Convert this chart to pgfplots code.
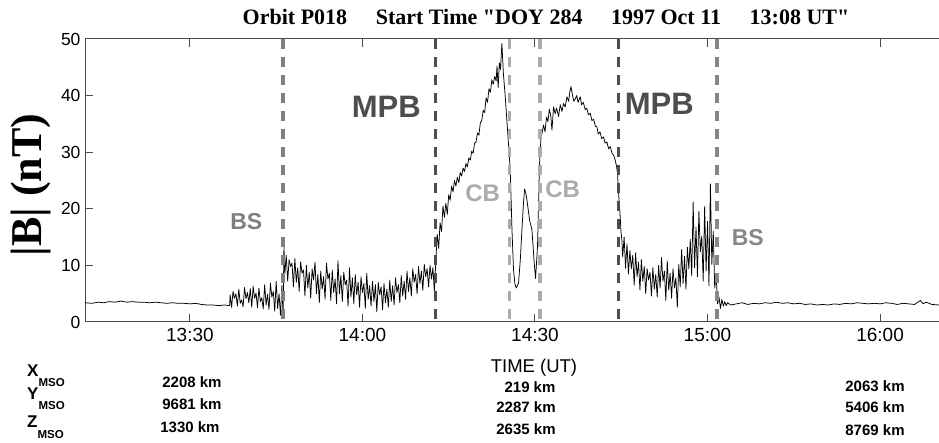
\documentclass[border=0pt]{standalone}
\usepackage{fontspec}
\setmainfont{Liberation Serif}
\setsansfont{Liberation Sans}
\usepackage{pgfplots}
\usepackage{pgfplotstable}
\pgfplotsset{compat=1.18}
\definecolor{bsgray}{HTML}{7F7F7F}
\definecolor{mpbgray}{HTML}{4D4D4D}
\definecolor{cbgray}{HTML}{ABABAB}
\definecolor{axgray}{HTML}{4A4A4A}
\definecolor{bsgrayB}{HTML}{878787}

% time in minutes after 13:00 (axis scale as drawn), |B| in nT
\pgfplotstableread{
m B
11.76 3.4
13 3.3
14 3.5
15 3.4
16 3.6
17 3.5
18 3.7
19 3.5
20 3.6
21 3.5
22 3.5
23 3.4
24 3.5
25 3.4
26 3.3
27 3.4
28 3.3
29 3.3
30 3.2
31 3.3
32 3.1
33 3.0
34 3.0
35 2.9
36 3.0
36.9 2.9
37.00 4.8
37.25 2.6
37.50 5.4
37.75 4.2
38.00 5.0
38.25 2.8
38.50 5.8
38.75 3.3
39.00 3.9
39.25 2.7
39.50 6.1
39.75 4.1
40.00 5.2
40.25 3.4
40.50 5.9
40.75 2.6
41.00 6.3
41.25 4.2
41.50 5.1
41.75 2.5
42.00 6.0
42.25 3.6
42.50 4.3
42.75 2.3
43.00 6.6
43.25 3.0
43.50 4.9
43.75 2.2
44.00 6.9
44.25 4.4
44.50 5.4
44.75 1.9
45.00 7.2
45.25 2.4
45.50 5.0
45.75 1.2
46.00 6.5
46.20 1.0
46.35 13.5
46.50 8.5
46.75 11.8
47.00 7.2
47.25 11.0
47.50 9.8
47.75 10.4
48.00 6.2
48.25 11.2
48.50 7.0
48.75 9.6
49.00 5.4
49.25 10.6
49.50 8.6
49.75 9.2
50.00 4.6
50.25 10.0
50.50 6.0
50.75 8.8
51.00 4.2
51.25 9.4
51.50 7.4
51.75 10.6
52.00 5.0
52.25 8.4
52.50 3.4
52.75 9.0
53.00 5.8
53.25 8.0
53.50 4.0
53.75 10.4
54.00 7.6
54.25 8.6
54.50 3.8
54.75 9.2
55.00 5.2
55.25 7.6
55.50 3.2
55.75 10.8
56.00 5.0
56.25 8.2
56.50 3.6
56.75 8.8
57.00 6.6
57.25 7.4
57.50 2.8
57.75 9.6
58.00 4.4
58.25 7.8
58.50 3.2
58.75 8.4
59.00 4.8
59.25 7.0
59.50 2.6
59.75 8.0
60.00 5.2
60.25 6.8
60.50 2.4
60.75 8.6
61.00 4.0
61.25 6.4
61.50 2.8
61.75 7.2
62.00 3.6
62.25 6.6
62.50 1.8
62.75 7.0
63.00 4.8
63.25 6.2
63.50 2.2
63.75 6.8
64.00 3.4
64.25 5.8
64.50 2.6
64.75 7.4
65.00 3.6
65.25 6.4
65.50 3.0
65.75 7.8
66.00 5.2
66.25 6.6
66.50 3.4
66.75 8.2
67.00 4.6
67.25 7.2
67.50 4.0
67.75 9.0
68.00 5.4
68.25 7.8
68.50 4.6
68.75 9.4
69.00 7.0
69.25 8.4
69.50 5.0
69.75 9.8
70.00 6.8
70.25 9.0
70.50 5.6
70.75 10.2
71.00 8.0
71.25 9.4
71.50 6.2
71.75 10.0
72.00 7.6
72.25 9.6
72.50 5.4
72.75 10.5
73.00 15.5
73.25 13.0
73.50 17.5
73.75 16.0
74.00 20.5
74.25 18.5
74.50 21.0
74.75 19.0
75.00 22.5
75.25 21.5
75.50 24.0
75.75 23.0
76.00 25.0
76.25 24.0
76.50 25.6
76.75 24.6
77.00 26.4
77.25 25.8
77.50 27.2
77.75 26.6
78.00 28.0
78.25 27.4
78.50 29.0
78.75 28.6
79.00 30.2
79.25 29.8
79.50 31.6
79.75 31.8
80.00 33.4
80.25 33.0
80.50 35.2
80.75 35.6
81.00 37.4
81.25 37.0
81.50 39.6
81.75 38.8
82.00 41.2
82.25 40.6
82.50 42.8
82.75 42.0
83.00 43.4
83.25 42.6
83.40 45.2
83.60 41.4
83.80 45.8
84.00 44.6
84.25 49.2
84.50 44.0
84.83 39.8
85.23 33.9
85.70 26.9
86.00 16.3
86.27 9.2
86.50 6.8
86.74 6.0
87.14 6.9
87.45 11.0
87.73 16.3
88.00 21.0
88.19 23.5
88.40 22.8
88.60 21.6
89.06 18.0
89.47 16.3
89.87 10.4
90.10 7.7
90.44 13.3
90.79 28.0
91.04 32.5
91.25 33.5
91.49 34.8
91.75 33.6
92.00 36.2
92.25 35.4
92.50 37.6
92.75 36.4
92.95 33.9
93.23 38.0
93.50 36.8
93.75 37.8
94.10 36.3
94.40 38.4
94.70 37.2
94.96 38.6
95.25 38.0
95.56 39.8
95.85 39.0
96.05 40.6
96.25 41.6
96.50 40.2
96.75 39.0
97.00 39.4
97.25 40.0
97.50 38.8
97.87 39.8
98.10 38.4
98.40 38.8
98.74 37.5
99.00 37.8
99.30 36.6
99.61 36.9
99.90 35.6
100.20 35.8
100.50 34.6
100.77 34.5
101.00 33.2
101.30 33.6
101.60 32.4
101.92 32.7
102.20 31.6
102.50 31.8
102.80 30.6
103.08 31.0
103.40 29.8
103.70 29.4
103.95 28.6
104.20 27.4
104.35 26.3
104.53 22.8
104.70 20.5
104.82 18.6
104.95 16.0
105.11 14.5
105.25 11.5
105.50 15.0
105.75 9.5
106.00 13.8
106.25 8.5
106.50 12.6
106.75 9.4
107.00 11.8
107.25 6.5
107.50 12.2
107.75 8.0
108.00 10.6
108.25 5.6
108.50 11.0
108.75 7.2
109.00 9.8
109.25 5.0
109.50 9.4
109.75 7.4
110.00 8.8
110.25 4.6
110.50 9.6
110.75 5.8
111.00 8.4
111.25 4.4
111.50 10.0
111.75 6.0
112.00 11.4
112.25 7.2
112.50 9.0
112.75 3.8
113.00 10.8
113.25 5.6
113.50 8.6
113.75 4.2
114.00 9.4
114.25 6.0
114.50 7.8
114.75 2.6
115.00 10.2
115.25 6.2
115.50 12.8
115.75 6.8
116.00 11.6
116.25 5.8
116.50 13.2
116.75 9.4
117.00 14.6
117.25 8.2
117.50 21.2
117.75 9.6
118.00 16.8
118.25 8.0
118.50 19.6
118.75 12.4
119.00 15.2
119.25 7.2
119.50 20.4
119.75 9.0
120.00 17.8
120.25 6.4
120.50 24.4
120.75 10.2
121.00 16.0
121.25 6.0
121.50 8.2
121.75 3.2
122.00 4.4
122.25 2.4
122.50 4.0
122.75 2.8
123.00 3.6
123.25 2.9
123.50 3.4
124.00 3.0
125 3.2
126 3.4
127 3.1
128 3.3
129 3.2
130 3.4
131 3.3
132 3.5
133 3.3
134 3.4
135 3.2
136 3.3
137 3.1
138 3.2
139 3.0
140 3.1
141 3.0
142 3.2
143 3.1
144 3.3
145 3.2
146 3.4
147 3.3
148 3.2
149 3.3
150 3.2
151 3.4
152 3.3
153 3.1
154 3.3
155 3.2
156 3.1
157 3.8
157.5 3.2
158 3.5
159 3.1
160.25 3.0
}\bfield

\begin{document}
\begin{tikzpicture}[x=1pt,y=1pt]
\path[use as bounding box] (0,0) rectangle (939,443);
\begin{axis}[
  at={(85pt,121pt)}, anchor=south west,
  width=854pt, height=283pt, scale only axis,
  xmin=11.76, xmax=160.25, ymin=0, ymax=50,
  xtick={30,60,90,120,150},
  xticklabels={13:30,14:00,14:30,15:00,16:00},
  ytick={0,10,20,30,40,50},
  tick align=inside, xtick pos=both, ytick pos=left,
  major tick length=8pt,
  axis line style={axgray, line width=1pt},
  tick style={axgray, line width=1pt},
  xticklabel style={font=\sffamily\fontsize{19}{19}\selectfont, yshift=-3pt},
  yticklabel style={font=\sffamily\fontsize{17.5}{17.5}\selectfont, xshift=-1pt},
  /pgf/number format/assume math mode=true,
  clip=false,
]
\addplot[black, line width=0.75pt, line join=round, mark=none] table[x=m, y=B] {\bfield};
\addplot[bsgray, line width=3.5pt, dash pattern=on 10pt off 8pt] coordinates {(46.2,50) (46.2,0)};
\addplot[mpbgray, line width=3.5pt, dash pattern=on 10pt off 8pt] coordinates {(72.72,50) (72.72,0)};
\addplot[cbgray, line width=3.5pt, dash pattern=on 10pt off 8pt] coordinates {(85.53,50) (85.53,0)};
\addplot[cbgray, line width=3.5pt, dash pattern=on 10pt off 8pt] coordinates {(90.91,50) (90.91,0)};
\addplot[mpbgray, line width=3.5pt, dash pattern=on 10pt off 8pt] coordinates {(104.53,50) (104.53,0)};
\addplot[bsgrayB, line width=3.5pt, dash pattern=on 10pt off 8pt] coordinates {(121.62,50) (121.62,0)};
\node[font=\sffamily\bfseries\fontsize{23}{23}\selectfont, text=bsgray] at (axis cs:39.8,17.8) {BS};
\node[font=\sffamily\bfseries\fontsize{31}{31}\selectfont, text=mpbgray] at (axis cs:64.15,38.0) {MPB};
\node[font=\sffamily\bfseries\fontsize{24}{24}\selectfont, text=cbgray] at (axis cs:80.9,22.7) {CB};
\node[font=\sffamily\bfseries\fontsize{24}{24}\selectfont, text=cbgray] at (axis cs:94.8,23.4) {CB};
\node[font=\sffamily\bfseries\fontsize{31}{31}\selectfont, text=mpbgray] at (axis cs:111.6,38.5) {MPB};
\node[font=\sffamily\bfseries\fontsize{23}{23}\selectfont, text=bsgrayB] at (axis cs:127.0,14.9) {BS};
\end{axis}
% title and axis label
\node[font=\bfseries\fontsize{22}{22}\selectfont, anchor=base] at (546,418) {Orbit P018\hspace{1.3em}Start Time \textquotedbl DOY 284\hspace{1.3em}1997 Oct 11\hspace{1.3em}13:08 UT\textquotedbl};
\node[rotate=90, font=\bfseries\fontsize{44}{44}\selectfont] at (31,258) {|B| (nT)};
\node[font=\sffamily\fontsize{18.5}{18.5}\selectfont, anchor=base] at (534,70) {TIME (UT)};
% MSO position rows
\node[font=\sffamily\bfseries\fontsize{17}{17}\selectfont, anchor=base west, inner sep=0pt] at (27,66) {X\raisebox{-10pt}{\fontsize{11.5}{11.5}\selectfont MSO}};
\node[font=\sffamily\bfseries\fontsize{17}{17}\selectfont, anchor=base west, inner sep=0pt] at (27,43) {Y\raisebox{-10pt}{\fontsize{11.5}{11.5}\selectfont MSO}};
\node[font=\sffamily\bfseries\fontsize{17}{17}\selectfont, anchor=base west, inner sep=0pt] at (27,15) {Z\raisebox{-11pt}{\fontsize{11.5}{11.5}\selectfont MSO}};
\begin{scope}[every node/.style={font=\sffamily\bfseries\fontsize{15}{15}\selectfont, anchor=base, inner sep=0pt}]
\node at (192,55) {2208 km};
\node at (192,33) {9681 km};
\node at (190,10) {1330 km};
\node at (530,50) {219 km};
\node at (526,30) {2287 km};
\node at (526,8) {2635 km};
\node at (875,51) {2063 km};
\node at (875,30) {5406 km};
\node at (875,7) {8769 km};
\end{scope}
\end{tikzpicture}
\end{document}
